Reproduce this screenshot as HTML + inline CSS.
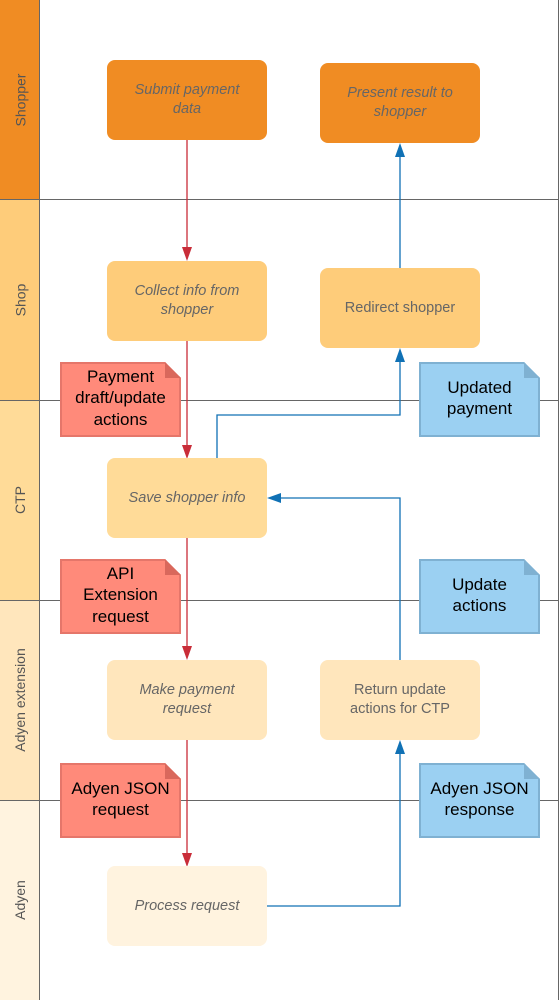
<!DOCTYPE html>
<html><head><style>
body{margin:0;width:560px;height:1000px;position:relative;background:#fff;font-family:"Liberation Sans",sans-serif;overflow:hidden}
.lane{position:absolute;left:0;width:40px;border-right:1px solid #666;box-sizing:border-box}
.lbl{position:absolute;left:0;width:40px;display:flex;align-items:center;justify-content:center}
.lbl span{transform:rotate(-90deg);white-space:nowrap;font-size:14px;color:#555}
.hl{position:absolute;left:0;width:559px;height:1px;background:#666}
.node{position:absolute;width:160px;height:80px;border-radius:8px;display:flex;align-items:center;justify-content:center;text-align:center;font-size:14.5px;color:#666;line-height:19px}
.node i{font-style:italic}
.note{position:absolute;width:121px;height:75px;box-sizing:border-box;display:flex;align-items:center;justify-content:center;text-align:center;font-size:17px;line-height:21.5px;color:#000;clip-path:polygon(0 0,105px 0,121px 16px,121px 75px,0 75px);padding-bottom:3px}
.r{background:#FF8A7A;border:2px solid #E5766A}
.b{background:#9BD0F2;border:2px solid #7FB1D2}
</style></head><body>
<div class="lane" style="top:0;height:200px;background:#F08C23"></div>
<div class="lane" style="top:200px;height:200px;background:#FECC7A"></div>
<div class="lane" style="top:400px;height:200px;background:#FFDB98"></div>
<div class="lane" style="top:600px;height:200px;background:#FFE6BC"></div>
<div class="lane" style="top:800px;height:200px;background:#FFF3DF"></div>
<div class="lbl" style="top:0;height:200px"><span>Shopper</span></div>
<div class="lbl" style="top:200px;height:200px"><span>Shop</span></div>
<div class="lbl" style="top:400px;height:200px"><span>CTP</span></div>
<div class="lbl" style="top:600px;height:200px"><span>Adyen extension</span></div>
<div class="lbl" style="top:800px;height:200px"><span>Adyen</span></div>
<div style="position:absolute;left:558px;top:0;width:1px;height:1000px;background:#666"></div>
<div class="hl" style="top:199px"></div>
<div class="hl" style="top:400px"></div>
<div class="hl" style="top:600px"></div>
<div class="hl" style="top:800px"></div>

<svg width="560" height="1000" style="position:absolute;left:0;top:0">
<g stroke="#C92D39" stroke-width="1.3" fill="none">
<line x1="187" y1="140" x2="187" y2="250"/>
<line x1="187" y1="341" x2="187" y2="448"/>
<line x1="187" y1="538" x2="187" y2="649"/>
<line x1="187" y1="740" x2="187" y2="856"/>
</g>
<g fill="#C92D39">
<polygon points="182,247 192,247 187,261"/>
<polygon points="182,445 192,445 187,459"/>
<polygon points="182,646 192,646 187,660"/>
<polygon points="182,853 192,853 187,867"/>
</g>
<g stroke="#1071B5" stroke-width="1.3" fill="none">
<polyline points="267,906 400,906 400,752"/>
<polyline points="400,660 400,498 280,498"/>
<polyline points="217,458 217,415 400,415 400,360"/>
<line x1="400" y1="268" x2="400" y2="155"/>
</g>
<g fill="#1071B5">
<polygon points="395,754 405,754 400,740"/>
<polygon points="281,493 281,503 267,498"/>
<polygon points="395,362 405,362 400,348"/>
<polygon points="395,157 405,157 400,143"/>
</g>
</svg>

<div class="node" style="left:107px;top:60px;background:#F08C23;color:#666"><i>Submit payment<br>data</i></div>
<div class="node" style="left:320px;top:63px;background:#F08C23;color:#666"><i>Present result to<br>shopper</i></div>
<div class="node" style="left:107px;top:261px;background:#FECC7A"><i>Collect info from<br>shopper</i></div>
<div class="node" style="left:320px;top:268px;background:#FECC7A">Redirect shopper</div>
<div class="node" style="left:107px;top:458px;background:#FFDB98"><i>Save shopper info</i></div>
<div class="node" style="left:107px;top:660px;background:#FFE6BC"><i>Make payment<br>request</i></div>
<div class="node" style="left:320px;top:660px;background:#FFE6BC">Return update<br>actions for CTP</div>
<div class="node" style="left:107px;top:866px;background:#FFF3DF"><i>Process request</i></div>

<div class="note r" style="left:60px;top:362px">Payment<br>draft/update<br>actions</div>
<div class="note b" style="left:419px;top:362px">Updated<br>payment</div>
<div class="note r" style="left:60px;top:559px">API<br>Extension<br>request</div>
<div class="note b" style="left:419px;top:559px">Update<br>actions</div>
<div class="note r" style="left:60px;top:763px">Adyen JSON<br>request</div>
<div class="note b" style="left:419px;top:763px">Adyen JSON<br>response</div>
<svg width="560" height="1000" style="position:absolute;left:0;top:0">
<g fill="#D9685C"><polygon points="165,362 181,378 165,378"/><polygon points="165,559 181,575 165,575"/><polygon points="165,763 181,779 165,779"/></g>
<g fill="#7FB1D2"><polygon points="524,362 540,378 524,378"/><polygon points="524,559 540,575 524,575"/><polygon points="524,763 540,779 524,779"/></g>
</svg>
</body></html>
